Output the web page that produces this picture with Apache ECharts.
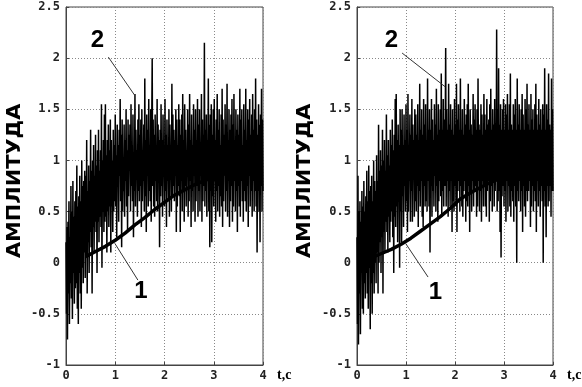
<!DOCTYPE html>
<html><head><meta charset="utf-8">
<script src="https://cdn.jsdelivr.net/npm/echarts@6/dist/echarts.min.js"></script>
<style>html,body{margin:0;padding:0;background:#fff}#c{width:582px;height:387px}</style>
</head><body><div id="c"></div>
<script>
// ---- data ----
const yTitle = 'АМПЛИТУДА';
const xTitle = 't,c';
const yMin = -1, yMax = 2.5, yStep = 0.5;
const xMin = 0, xMax = 4, xStep = 1;

// curve 2 (noisy signal), sampled uniformly over 0..4 s (rows of 0.1 s)
const noiseLeft = [
  .2,-.5,.35,-.75,.4,-.3,.6,-.6,.25,-.2,
  .75,-.35,.5,-.55,.8,-.1,.45,-.4,.6,-.25,
  .7,-.2,.95,-.45,.55,-.6,.65,-.1,.85,-.3,
  .6,-.45,1.0,-.05,.75,-.2,.8,.1,.9,-.15,
  .85,.05,1.2,-.3,.7,.2,.95,-.1,.8,.3,
  1.3,.15,.9,-.3,1.0,.35,1.15,.1,.85,.4,
  1.25,.3,.95,-.1,1.1,.4,1.3,.2,.9,.45,
  1.1,.35,1.55,-.05,1.0,.5,1.2,.3,1.45,.4,
  1.55,.45,1.05,.1,1.2,.5,1.35,.35,1.1,.55,
  1.4,.1,1.2,.55,1.0,.3,1.3,.5,1.15,.6,
  1.45,.55,1.05,.25,1.35,.75,1.15,.4,1.3,.85,
  1.6,.6,1.25,.15,1.4,.5,1.0,.7,1.35,.45,
  1.2,.8,1.5,.55,1.1,.3,1.4,.65,1.25,.9,
  1.35,.5,1.55,.75,1.15,.6,1.45,.25,1.05,.7,
  1.65,.55,1.3,.85,1.1,.45,1.4,.7,1.55,.6,
  1.25,.75,1.4,.35,1.5,.6,1.1,.8,1.35,.5,
  1.8,.65,1.2,.3,1.45,.85,1.3,.55,1.6,.7,
  1.15,.6,1.5,.4,1.3,2.0,.75,1.4,.55,1.25,
  .45,1.45,.8,1.1,.6,1.6,.5,1.35,.9,1.2,
  .15,1.3,.65,1.55,.75,1.2,.45,1.45,.85,1.1,
  .55,1.6,.7,1.25,.35,1.4,.8,1.15,.6,1.5,
  .45,1.35,.9,1.1,.5,1.75,.65,1.45,.75,1.3,
  .6,1.2,.85,1.5,.3,1.4,.55,1.15,.75,1.55,
  .65,1.4,.3,1.25,.8,1.45,.5,1.65,.7,1.2,
  .4,1.55,.75,1.3,.55,1.1,.85,1.5,.45,1.35,
  .6,1.65,.8,1.2,.35,1.45,.7,1.15,.5,1.55,
  .85,1.3,.4,1.5,.6,1.2,.75,1.6,.45,1.35,
  .7,1.5,.5,1.15,.85,1.65,.4,1.4,.6,1.25,
  .75,2.15,.55,1.3,.7,1.45,.45,1.2,.8,1.8,
  .5,1.35,.15,1.45,.7,1.55,.2,1.25,.65,1.5,
  .55,1.6,.8,1.2,.4,1.4,.7,1.65,.5,1.3,
  .75,1.5,.45,1.15,.65,1.45,.55,1.7,.35,1.4,
  .6,1.25,.85,1.55,.5,1.35,.7,1.75,.45,1.2,
  .8,1.5,.35,1.3,.6,1.45,.75,1.6,.4,1.35,
  .55,1.65,.8,1.2,.5,1.5,.7,1.3,.3,1.45,
  .75,1.25,.55,1.7,.45,1.4,.8,1.5,.6,1.15,
  .4,1.55,.7,1.3,.6,1.7,.5,1.2,.75,1.5,
  .35,1.4,.85,1.6,.55,1.25,.7,1.45,.45,1.65,
  .8,1.3,.5,1.5,.7,1.8,.55,1.4,.1,1.25,
  .7,1.55,.5,1.35,.2,1.45,.75,1.7,.5,1.4,
  .7
];
const noiseRight = [
  .25,-.6,.85,-.8,.5,-.3,.6,-.7,.4,-.1,
  .7,-.45,.55,-.5,.8,-.2,.5,-.35,.65,-.1,
  .9,-.3,.6,-.45,.95,-.05,.7,-.65,.75,-.2,
  .85,-.5,.6,-.1,1.0,-.3,.8,.0,.7,-.2,
  1.05,.1,.8,-.3,1.35,.0,.9,.2,1.1,-.1,
  .95,.25,1.3,-.3,1.0,.3,1.2,.1,.9,.4,
  1.45,.3,1.05,.1,1.2,.45,.95,.2,1.3,.4,
  1.15,.5,1.4,.25,1.1,-.1,1.25,.45,1.6,.35,
  1.65,.55,1.2,.2,1.35,.6,1.15,-.05,1.5,.5,
  1.3,.2,1.5,.65,1.15,.35,1.45,.75,1.2,.5,
  1.55,.6,1.3,.3,1.65,.5,1.15,.8,1.45,.4,
  1.25,.7,1.6,.4,1.35,.85,1.2,.45,1.5,.6,
  1.45,.5,1.25,.75,1.55,.35,1.2,.7,1.75,.55,
  1.3,.8,1.5,.45,1.25,.35,1.6,.75,1.35,.55,
  1.55,.6,1.2,.5,1.8,.8,1.3,.55,1.5,.1,
  1.3,.75,1.6,.45,1.4,.7,1.2,.55,1.55,.85,
  1.35,.5,1.7,.75,1.25,.4,1.55,.6,1.3,.8,
  1.5,.65,1.85,.45,1.3,.7,1.6,.55,1.4,.75,
  1.25,2.1,.55,1.5,.8,1.3,.45,1.75,.7,1.35,
  .55,1.55,.8,1.3,.3,1.5,.6,1.25,.5,1.6,
  .75,1.35,.55,1.75,.3,1.4,.7,1.55,.8,1.3,
  .5,1.8,.75,1.3,.55,1.5,.45,1.25,.7,1.6,
  .8,1.35,.4,1.45,.6,1.55,.55,1.75,.75,1.3,
  .3,1.5,.7,1.35,.5,1.25,.8,1.65,.55,1.4,
  .7,1.55,.75,1.3,.45,1.5,.55,1.8,.8,1.35,
  .5,1.3,.7,1.55,.4,1.45,.8,1.25,.55,1.65,
  .75,1.45,.55,1.3,.45,1.6,.7,1.35,.8,1.4,
  .4,1.55,.6,1.7,.75,1.3,.5,1.5,.8,1.35,
  .55,1.6,.7,1.25,.8,2.28,.5,1.5,.6,1.9,
  .7,1.35,.3,1.55,.05,1.3,.65,1.5,.75,1.6,
  .55,1.3,.7,1.55,.4,1.45,.8,1.65,.5,1.3,
  .75,1.55,.55,1.85,.45,1.35,.7,1.3,.6,1.55,
  .4,1.45,.75,1.6,.55,1.3,.0,1.8,.7,1.35,
  .6,1.55,.8,1.3,.5,1.5,.7,1.65,.3,1.45,
  .75,1.3,.55,1.6,.45,1.5,.7,1.75,.6,1.35,
  .7,1.55,.8,1.3,.35,1.65,.55,1.4,.75,1.5,
  .5,1.3,.7,1.55,.6,1.75,.3,1.45,.8,1.3,
  .55,1.6,.7,1.35,.45,1.5,.75,1.3,.6,1.55,
  .0,1.45,.7,1.9,.55,1.3,.25,1.55,.75,1.4,
  .55,1.85,.6,1.35,.75,1.3,.45,1.8,.7,1.5,
  .7
];

// curve 1 (smooth trend)
const trendLeftT = [0.4,0.6,0.8,1.0,1.2,1.4,1.6,1.8,2.0,2.2,2.4,2.6,2.8,3.0,3.2,3.4,3.6,3.8,4.0];
const trendLeftV = [0.06,0.11,0.16,0.22,0.29,0.37,0.44,0.52,0.59,0.66,0.71,0.76,0.80,0.84,0.87,0.90,0.92,0.94,0.95];
const trendRightT = [0.3,0.5,0.7,0.9,1.1,1.3,1.5,1.7,1.9,2.1,2.3,2.5,2.7,2.9,3.1,3.3,3.5,3.7,3.9,4.0];
const trendRightV = [0.05,0.09,0.13,0.18,0.24,0.31,0.38,0.45,0.53,0.62,0.68,0.73,0.78,0.82,0.86,0.89,0.91,0.93,0.95,0.96];

// annotation labels: [text, labelT, labelV, leaderFromT, leaderFromV, leaderToT, leaderToV]
const notesLeft = [
  ['2', 0.64, 2.17, 0.86, 2.01, 1.39, 1.64],
  ['1', 1.52, -0.28, 0.99, 0.19, 1.46, -0.17]
];
const notesRight = [
  ['2', 0.70, 2.17, 0.92, 2.05, 1.80, 1.72],
  ['1', 1.60, -0.29, 0.99, 0.19, 1.45, -0.14]
];

// ---- chart ----
function pairs(vals) {
  const dt = (xMax - xMin) / (vals.length - 1);
  return vals.map((v, i) => [xMin + i * dt, v]);
}
function zip(t, v) { return t.map((x, i) => [x, v[i]]); }

const chart = echarts.init(document.getElementById('c'), null, {renderer: 'canvas'});
const grids = [
  {left: 66, top: 7, width: 197, height: 358},
  {left: 357, top: 7, width: 196, height: 358}
];
const monoLabel = {fontFamily: 'DejaVu Sans Mono', fontWeight: 'bold', fontSize: 12, color: '#222'};
function xAx(i) {
  return {type: 'value', gridIndex: i, min: xMin, max: xMax, interval: xStep,
    axisLine: {show: true, onZero: false, lineStyle: {color: '#444'}},
    axisTick: {show: true, inside: true, length: 3, lineStyle: {color: '#444'}},
    axisLabel: Object.assign({margin: 5}, monoLabel),
    splitLine: {show: true, lineStyle: {color: '#888', type: [1, 2], width: 1}}};
}
function yAx(i) {
  return {type: 'value', gridIndex: i, min: yMin, max: yMax, interval: yStep,
    axisLine: {show: true, onZero: false, lineStyle: {color: '#444'}},
    axisTick: {show: true, inside: true, length: 3, lineStyle: {color: '#444'}},
    axisLabel: Object.assign({margin: 6}, monoLabel),
    splitLine: {show: true, lineStyle: {color: '#888', type: [1, 2], width: 1}}};
}
chart.setOption({
  animation: false,
  backgroundColor: '#fff',
  grid: grids.map(g => Object.assign({show: true, borderColor: '#444', borderWidth: 1, backgroundColor: 'transparent'}, g)),
  xAxis: [xAx(0), xAx(1)],
  yAxis: [yAx(0), yAx(1)],
  series: [
    {type: 'line', xAxisIndex: 0, yAxisIndex: 0, data: zip(trendLeftT, trendLeftV), showSymbol: false,
      lineStyle: {color: '#000', width: 3.5}, z: 2},
    {type: 'line', xAxisIndex: 1, yAxisIndex: 1, data: zip(trendRightT, trendRightV), showSymbol: false,
      lineStyle: {color: '#000', width: 3.5}, z: 2},
    {type: 'line', xAxisIndex: 0, yAxisIndex: 0, data: pairs(noiseLeft), showSymbol: false,
      lineStyle: {color: '#000', width: 1.5}, z: 3},
    {type: 'line', xAxisIndex: 1, yAxisIndex: 1, data: pairs(noiseRight), showSymbol: false,
      lineStyle: {color: '#000', width: 1.5}, z: 3}
  ]
});

const gfx = [];
function addNotes(notes, gi) {
  notes.forEach(n => {
    const lp = chart.convertToPixel({gridIndex: gi}, [n[1], n[2]]);
    const a = chart.convertToPixel({gridIndex: gi}, [n[3], n[4]]);
    const b = chart.convertToPixel({gridIndex: gi}, [n[5], n[6]]);
    gfx.push({type: 'line', shape: {x1: a[0], y1: a[1], x2: b[0], y2: b[1]},
      style: {stroke: '#333', lineWidth: 1}, z: 10});
    gfx.push({type: 'text', x: lp[0], y: lp[1], z: 10,
      style: {text: n[0], fill: '#000', font: 'bold 24px "Liberation Sans"', align: 'center', verticalAlign: 'middle'}});
  });
}
addNotes(notesLeft, 0);
addNotes(notesRight, 1);
[[15, 0], [305, 1]].forEach(([x, gi]) => {
  const mid = chart.convertToPixel({gridIndex: gi}, [0, 0.8]);
  gfx.push({type: 'text', x: x, y: mid[1], rotation: Math.PI / 2, scaleX: 1.1, z: 10,
    style: {text: yTitle, fill: '#000', font: 'bold 19px "DejaVu Sans"', align: 'center', verticalAlign: 'middle'}});
});
[[0], [1]].forEach(([gi]) => {
  const p = chart.convertToPixel({gridIndex: gi}, [xMax, yMin]);
  gfx.push({type: 'text', x: p[0] + 14, y: p[1] + 10, z: 10,
    style: {text: xTitle, fill: '#000', font: 'bold 14px "Liberation Serif"', align: 'left', verticalAlign: 'middle'}});
});
chart.setOption({graphic: gfx});
</script></body></html>
